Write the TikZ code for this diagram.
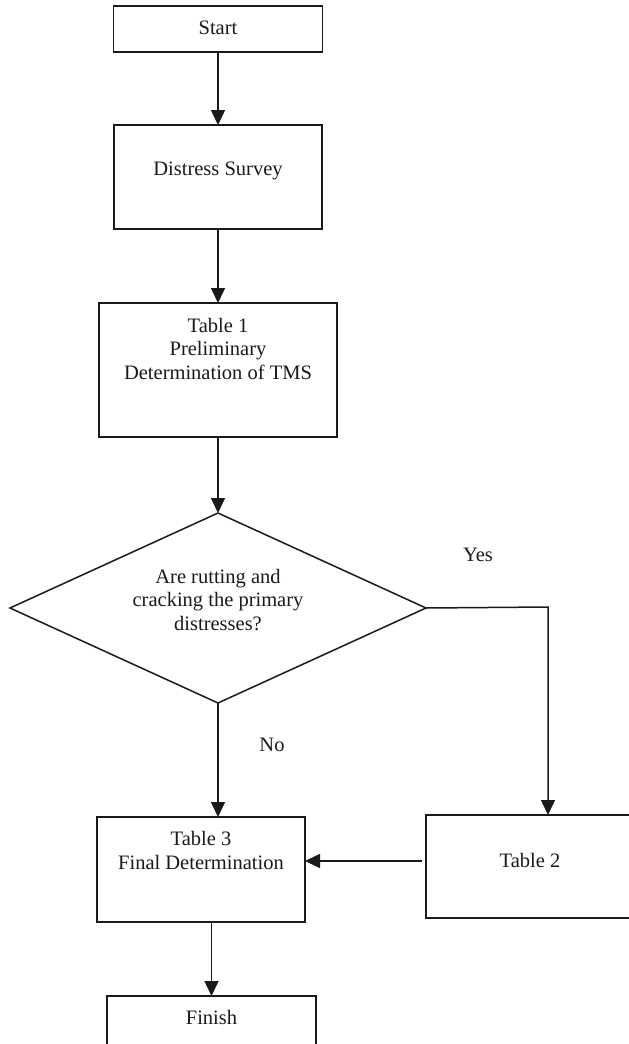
\documentclass[tikz,border=0pt]{standalone}
\usepackage{fontspec}
\setmainfont{Liberation Serif}
\usepackage{xcolor}
\definecolor{cLine}{HTML}{1A1A1A}
\usepackage{tikz}
\usetikzlibrary{positioning,arrows.meta,shapes.geometric}
\tikzset{
  node-box/.style={draw=cLine,line width=1.5pt,rectangle,inner sep=0pt,outer sep=0pt},
  node-decision/.style={draw=cLine,line width=1.5pt,diamond,inner sep=0pt,outer sep=0pt,
    minimum width=416pt,minimum height=190pt},
  node-text/.style={inner sep=0pt,align=center,text=cLine,
    font=\fontsize{20.5pt}{23.5pt}\selectfont},
  arrow/.style={-{Triangle[length=15pt,width=14pt]},line width=1.5pt,draw=cLine},
}

\begin{document}
\begin{tikzpicture}[x=1pt,y=-1pt]
  \useasboundingbox (0,0) rectangle (629,1044);
  % boxes
  \node[node-box,minimum width=209pt,minimum height=46pt] (start) at (218,29) {};
  \node[node-box,minimum width=208pt,minimum height=104pt,below=73pt of start] (survey) {};
  \node[node-box,minimum width=238pt,minimum height=134pt,below=74pt of survey] (table1) {};
  \node[node-decision,below=76pt of table1] (check) {};
  \node[node-box,minimum width=208pt,minimum height=105pt] (table3) at (201,869.5) {};
  \node[node-box,minimum width=208pt,minimum height=103pt] (table2) at (530,866.5) {};
  \node[node-box,minimum width=209pt,minimum height=60pt] (finish) at (211.5,1026) {};
  % texts
  \node[node-text] (start-txt) at ([yshift=-22pt]start.north) {Start};
  \node[node-text] (survey-txt) at ([yshift=-46pt]survey.north) {Distress Survey};
  \node[node-text] (table1-txt) at ([yshift=-45.5pt]table1.north)
    {Table 1\\Preliminary\\Determination of TMS};
  \node[node-text] (check-txt) at ([yshift=8pt]check.center)
    {Are rutting and\\cracking the primary\\distresses?};
  \node[node-text] (table3-txt) at ([yshift=-33.5pt]table3.north)
    {Table 3\\Final Determination};
  \node[node-text] (table2-txt) at ([yshift=-45pt]table2.north) {Table 2};
  \node[node-text] (finish-txt) at ([yshift=-21pt]finish.north) {Finish};
  \node[node-text] (yes) at (478,555) {Yes};
  \node[node-text] (no) at (272,745) {No};
  % connectors
  \coordinate (yes-corner) at (548,607);
  \draw[arrow] (start) -- (survey);
  \draw[arrow] (survey) -- (table1);
  \draw[arrow] (table1) -- (check);
  \draw[arrow] (check.east) -- (yes-corner) -- (yes-corner |- table2.north);
  \draw[arrow] (check.south) -- (check.south |- table3.north);
  \draw[arrow,shorten <=4pt] ([yshift=5.5pt]table2.west) -- ([yshift=5.5pt]table2.west -| table3.east);
  \draw[arrow] (finish.north |- table3.south) -- (finish.north);
\end{tikzpicture}
\end{document}
